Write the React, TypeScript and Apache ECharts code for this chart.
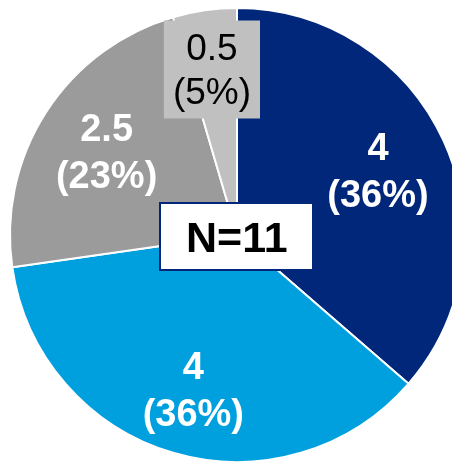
import React, { useEffect, useRef } from "react";
import * as echarts from "echarts";

const categories = ["A", "B", "C", "D"];
const values = [4, 4, 2.5, 0.5];
const colors = ["#00277A", "#00A0DF", "#9B9B9B", "#C0C0C0"];
const totalLabel = "N=11";

const FONT = "'Liberation Sans', Arial, sans-serif";

export default function App() {
  const ref = useRef<HTMLDivElement>(null);
  useEffect(() => {
    if (!ref.current) return;
    const chart = echarts.init(ref.current, undefined, { renderer: "svg" });
    const data = categories.map((c, i) => ({
      name: c,
      value: values[i],
      itemStyle: { color: colors[i] },
    }));
    const labelData = categories.map((c, i) => ({
      name: c,
      value: values[i],
      label:
        i === 3
          ? {
              color: "#000",
              fontWeight: "normal" as const,
              fontSize: 37,
              lineHeight: 44,
              backgroundColor: "#C0C0C0",
              padding: [5, 9, 5, 9],
            }
          : {},
    }));
    chart.setOption({
      animation: false,
      title: {
        text: totalLabel,
        left: 160,
        top: 203,
        backgroundColor: "#fff",
        borderColor: "#00277A",
        borderWidth: 2,
        padding: [11, 26],
        textStyle: {
          fontFamily: FONT,
          fontSize: 43,
          fontWeight: "bold",
          color: "#000",
          lineHeight: 45,
        },
      },
      series: [
        {
          type: "pie",
          center: [237, 235],
          radius: [0, 227],
          startAngle: 90,
          clockwise: true,
          silent: true,
          label: { show: false },
          labelLine: { show: false },
          itemStyle: { borderColor: "#fff", borderWidth: 2 },
          data,
        },
        {
          type: "pie",
          center: [237, 235],
          radius: [77, 227],
          startAngle: 90,
          clockwise: true,
          silent: true,
          percentPrecision: 0,
          itemStyle: { color: "transparent", borderWidth: 0 },
          labelLine: { show: false },
          label: {
            show: true,
            position: "inside",
            formatter: "{c}\n({d}%)",
            fontFamily: FONT,
            fontSize: 38,
            fontWeight: "bold",
            lineHeight: 47,
            color: "#fff",
          },
          labelLayout: (p: any) => {
            if (p.dataIndex === 3) return { dy: -12, dx: -3 };
            if (p.dataIndex === 1) return { dy: 6 };
            return {};
          },
          data: labelData,
        },
      ],
    });
    return () => chart.dispose();
  }, []);
  return (
    <div
      ref={ref}
      style={{ position: "fixed", left: 0, top: 0, width: 452, height: 463 }}
    />
  );
}
